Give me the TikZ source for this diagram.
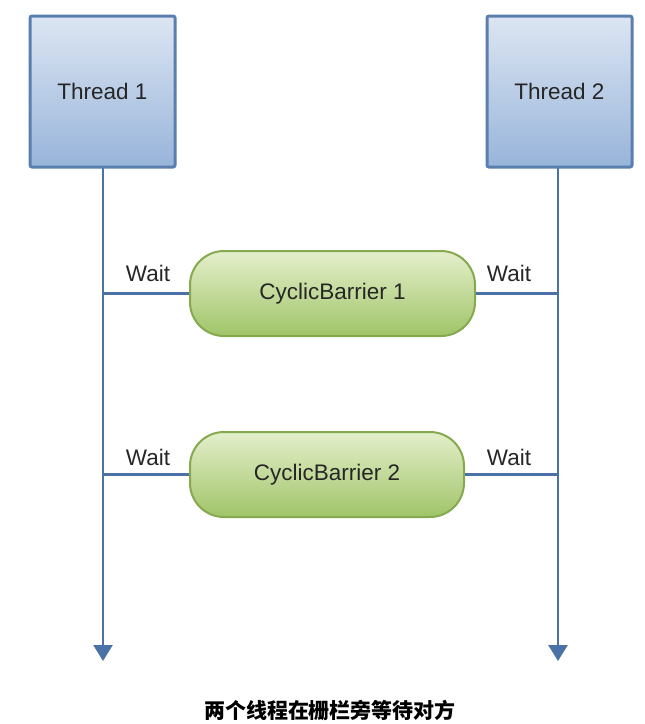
\documentclass[tikz,border=0pt]{standalone}
\usepackage{fontspec}
\setmainfont{Liberation Sans}
\newfontfamily\cjk{Noto Sans CJK SC}
\usetikzlibrary{arrows.meta}
\definecolor{threadtop}{HTML}{DCE6F2}
\definecolor{threadbot}{HTML}{98B4DA}
\definecolor{threadline}{HTML}{5A7EAE}
\definecolor{flowline}{HTML}{4A72A6}
\definecolor{bartop}{HTML}{E4EFCB}
\definecolor{barbot}{HTML}{A0C468}
\definecolor{barline}{HTML}{84A94E}
\tikzset{
  threadbox/.style={draw=threadline, line width=3pt, top color=threadtop,
    bottom color=threadbot, minimum width=145pt, minimum height=151pt,
    rounded corners=2pt, font=\fontsize{22.5}{27}\selectfont, text=black!85},
  barrierbox/.style={draw=barline, line width=2pt, top color=bartop,
    bottom color=barbot, minimum height=85pt, rounded corners=34pt,
    font=\fontsize{22.5}{27}\selectfont, text=black!85},
  flow/.style={draw=flowline, line width=2.5pt},
  flowarrow/.style={flow, -{Triangle[width=19pt,length=16pt]}},
  waitlabel/.style={font=\fontsize{22.5}{27}\selectfont, text=black!85}
}
\begin{document}
\begin{tikzpicture}[x=1pt,y=-1pt]
  \useasboundingbox (0,0) rectangle (645,724);
  % thread lifelines
  \coordinate (end1) at (103,661);
  \coordinate (end2) at (558,661);
  \draw[flowarrow] (103,160) -- (end1);
  \draw[flowarrow] (558,160) -- (end2);
  % threads
  \node[threadbox] (t1) at (102.5,91.5) {Thread 1};
  \node[threadbox] (t2) at (559.5,91.5) {Thread 2};
  % barriers
  \node[barrierbox, minimum width=285pt] (b1) at (332.5,293.5) {CyclicBarrier 1};
  \node[barrierbox, minimum width=274pt] (b2) at (327,474.5) {CyclicBarrier 2};
  % waits
  \draw[flow] (b1.west) -- (b1.west -| end1);
  \draw[flow] (b1.east) -- (b1.east -| end2);
  \draw[flow] (b2.west) -- (b2.west -| end1);
  \draw[flow] (b2.east) -- (b2.east -| end2);
  \node[waitlabel] (w1l) at (148,273) {Wait};
  \node[waitlabel] (w1r) at (509,273) {Wait};
  \node[waitlabel] (w2l) at (148,457) {Wait};
  \node[waitlabel] (w2r) at (509,457) {Wait};
  % caption
  \node[font=\cjk\bfseries\fontsize{21}{24}\selectfont] (cap) at (330,710) {两个线程在栅栏旁等待对方};
\end{tikzpicture}
\end{document}
